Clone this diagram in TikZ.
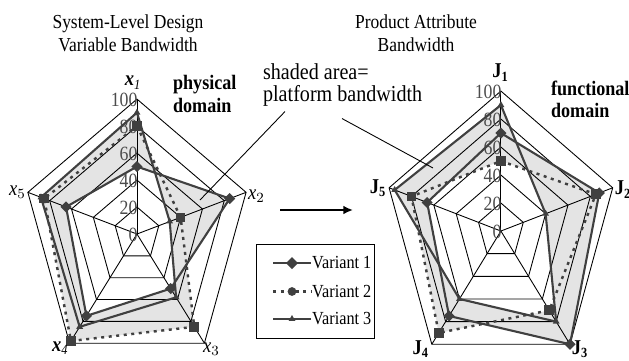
\documentclass[tikz,border=0pt]{standalone}
\usepackage{fontspec}
\setmainfont{Liberation Serif}[FakeStretch=0.88]
\usetikzlibrary{arrows.meta,positioning,shapes.geometric}
\definecolor{linegray}{HTML}{404040}
\definecolor{areagray}{HTML}{E4E4E4}
\newcommand{\ring}[1]{(#11) -- (#12) -- (#13) -- (#14) -- (#15) -- cycle}
\tikzset{
  titletext/.style={align=center,font=\fontsize{11.3}{13}\selectfont},
  notetext/.style={align=left,font=\fontsize{13}{12.6}\selectfont,inner sep=1pt},
  domaintext/.style={align=left,font=\fontsize{11.7}{12.6}\selectfont\bfseries,inner sep=1pt},
  gridline/.style={draw=black,line width=0.5pt},
  scalelabel/.style={font=\fontsize{11.5}{11.5}\selectfont,text=black!70,anchor=east,inner sep=0pt},
  axislabel/.style={font=\fontsize{12}{12}\selectfont,inner sep=1pt},
  varone/.style={draw=linegray,line width=1.2pt,line join=round},
  vartwo/.style={draw=linegray,line width=1.4pt,dash pattern=on 1.7pt off 2.6pt},
  varthree/.style={draw=linegray,line width=1.2pt,line join=round},
  markone/.style={diamond,fill=linegray,inner sep=0pt,minimum size=6.5pt},
  marktwo/.style={rectangle,fill=linegray,inner sep=0pt,minimum size=5.5pt},
  markthree/.style={regular polygon,regular polygon sides=3,fill=linegray,inner sep=0pt,minimum size=4.5pt},
  legendtext/.style={anchor=west,font=\fontsize{10.5}{10.5}\selectfont,inner sep=0.5pt},
  flowarrow/.style={-{Latex[length=5.5pt,width=5pt]},line width=1.2pt},
  calloutline/.style={draw=black,line width=0.5pt}
}

\begin{document}
\begin{tikzpicture}[x=0.02cm,y=0.02cm]
  \useasboundingbox (0,0) rectangle (629,360);

  \node[titletext] (titlephys) at (128,327) {System-Level Design\\Variable Bandwidth};
  \node[titletext] (titlefunc) at (416,327) {Product Attribute\\Bandwidth};

  % physical domain
  \begin{scope}[xshift=2.74cm,yshift=2.52cm,x=0.02295cm,y=0.027cm]
    \foreach \v [count=\i] in {50,85,50,75,65} \coordinate (pa\i) at ({162-72*\i}:\v);
    \foreach \v [count=\i] in {80,40,85,98,85} \coordinate (pb\i) at ({162-72*\i}:\v);
    \foreach \v [count=\i] in {90,30,58,85,88} \coordinate (pc\i) at ({162-72*\i}:\v);
    \fill[areagray] \ring{pa} \ring{pb} \ring{pc};
    \begin{scope}
      \clip \ring{pa};
      \clip \ring{pb};
      \fill[white] \ring{pc};
    \end{scope}
    \foreach \l in {20,40,...,100}
      \draw[gridline] (90:\l) -- (18:\l) -- (-54:\l) -- (-126:\l) -- (162:\l) -- cycle;
    \foreach \a in {90,18,-54,-126,162} \draw[gridline] (0,0) -- (\a:100);
    \foreach \l in {0,20,...,100} \node[scalelabel] (pscale\l) at ([xshift=0.5pt,yshift=-0.5pt]90:\l) {\l};
    \draw[varone] \ring{pa};
    \draw[vartwo] \ring{pb};
    \draw[varthree] \ring{pc};
    \foreach \i in {1,...,5} {
      \node[markone] (pma\i) at (pa\i) {};
      \node[marktwo] (pmb\i) at (pb\i) {};
      \node[markthree] (pmc\i) at (pc\i) {};
    }
    \node[axislabel,anchor=south,xshift=-2pt,yshift=4.5pt] (xlab1) at (90:100) {\textbf{\textit{x}}$_{\mathbf{\mathit{1}}}$};
    \node[axislabel,anchor=west,yshift=-2pt] (xlab2) at (18:100) {\textit{x}$_2$};
    \node[axislabel,xshift=4pt,yshift=-3.5pt] (xlab3) at (-54:100) {\textit{x}$_3$};
    \node[axislabel,xshift=-5pt,yshift=-3pt] (xlab4) at (-126:100) {\textbf{\textit{x}}$_{\mathit{4}}$};
    \node[axislabel,anchor=east] (xlab5) at (162:100) {\textit{x}$_5$};
  \end{scope}
  \node[domaintext,anchor=west] (physdomain) at (171,266) {physical\\domain};

  % functional domain
  \begin{scope}[xshift=10.02cm,yshift=2.58cm,x=0.02352cm,y=0.028cm]
    \foreach \v [count=\i] in {70,88,100,75,66} \coordinate (qa\i) at ({162-72*\i}:\v);
    \foreach \v [count=\i] in {50,85,70,90,80} \coordinate (qb\i) at ({162-72*\i}:\v);
    \foreach \v [count=\i] in {90,40,80,60,95} \coordinate (qc\i) at ({162-72*\i}:\v);
    \fill[areagray] \ring{qa} \ring{qb} \ring{qc};
    \begin{scope}
      \clip \ring{qa};
      \clip \ring{qb};
      \fill[white] \ring{qc};
    \end{scope}
    \foreach \l in {20,40,...,100}
      \draw[gridline] (90:\l) -- (18:\l) -- (-54:\l) -- (-126:\l) -- (162:\l) -- cycle;
    \foreach \a in {90,18,-54,-126,162} \draw[gridline] (0,0) -- (\a:100);
    \foreach \l in {0,20,...,100} \node[scalelabel] (qscale\l) at ([xshift=0.5pt,yshift=-0.5pt]90:\l) {\l};
    \draw[varone] \ring{qa};
    \draw[vartwo] \ring{qb};
    \draw[varthree] \ring{qc};
    \foreach \i in {1,...,5} {
      \node[markone] (qma\i) at (qa\i) {};
      \node[marktwo] (qmb\i) at (qb\i) {};
      \node[markthree] (qmc\i) at (qc\i) {};
    }
    \node[axislabel,anchor=south,yshift=4.5pt] (jlab1) at (90:100) {\textbf{J}$_{\mathbf{1}}$};
    \node[axislabel,anchor=west,yshift=-1pt] (jlab2) at (18:100) {\textbf{J}$_{\mathbf{2}}$};
    \node[axislabel,xshift=6pt,yshift=-2.8pt] (jlab3) at (-54:100) {\textbf{J}$_{\mathbf{3}}$};
    \node[axislabel,xshift=-6pt,yshift=-2.8pt] (jlab4) at (-126:100) {\textbf{J}$_{\mathbf{4}}$};
    \node[axislabel,anchor=east] (jlab5) at (162:100) {\textbf{J}$_{\mathbf{5}}$};
  \end{scope}
  \node[domaintext,anchor=west] (funcdomain) at (549,261) {functional\\domain};

  % callout
  \node[notetext,anchor=west] (note) at (261,275) {shaded area=\\platform bandwidth};
  \coordinate (areaphys) at (200,160);
  \coordinate (areafunc) at (433,192);
  \draw[calloutline] ([xshift=0.48cm,yshift=-0.06cm]note.south west) -- (areaphys);
  \draw[calloutline] ([xshift=1.62cm,yshift=-0.2cm]note.south west) -- (areafunc);

  % mapping arrow
  \coordinate (arrowtail) at (280,150);
  \coordinate (arrowtip) at (353,150);
  \draw[flowarrow] (arrowtail) -- (arrowtip);

  % legend
  \node[draw=black,line width=0.5pt,minimum width=2.36cm,minimum height=1.88cm,inner sep=0pt] (legend) at (315,69) {};
  \draw[varone] (273,97) -- (311,97);
  \node[markone,minimum size=7pt] (legmark1) at (292,97) {};
  \node[legendtext] (legtext1) at (311,97) {Variant 1};
  \draw[vartwo] (273,68.5) -- (311,68.5);
  \node[circle,fill=linegray,inner sep=0pt,minimum size=5pt] (legmark2) at (292,68.5) {};
  \node[legendtext] (legtext2) at (311,68.5) {Variant 2};
  \draw[varthree] (273,41) -- (311,41);
  \node[markthree] (legmark3) at (292,41) {};
  \node[legendtext] (legtext3) at (311,41) {Variant 3};
\end{tikzpicture}
\end{document}
